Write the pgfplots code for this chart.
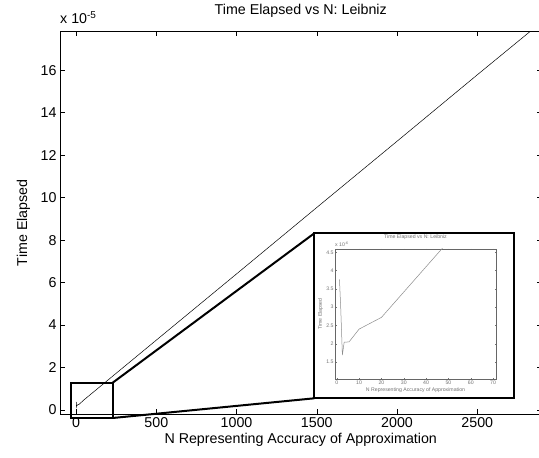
\documentclass[border=0pt]{standalone}
\usepackage{fontspec}
\setmainfont{Liberation Sans}
\usepackage{pgfplots}
\usepackage{pgfplotstable}
\pgfplotsset{compat=1.18}
\pgfplotstableread{
N t
1.2 3.76e-6
1.8 2.92e-6
2.5 1.69e-6
3.3 2.04e-6
5.5 2.05e-6
10 2.40e-6
20 2.72e-6
50 4.80e-6
500 3.29e-5
1000 6.41e-5
1500 9.54e-5
2000 1.266e-4
2500 1.579e-4
2829 1.783e-4
}\datatable

\begin{document}
\begin{tikzpicture}
\useasboundingbox (0bp,0bp) rectangle (539bp,458bp);
\begin{axis}[
  at={(60bp,44bp)}, anchor=south west,
  scale only axis, width=481.5bp, height=382.5bp,
  xmin=-100, xmax=2900, ymin=-0.19e-5, ymax=17.83e-5,
  xtick={0,500,1000,1500,2000,2500},
  ytick={0,2e-5,4e-5,6e-5,8e-5,10e-5,12e-5,14e-5,16e-5},
  scaled x ticks=false,
  scaled y ticks=base 10:5,
  ytick scale label code/.code={x 10\textsuperscript{#1}},
  every y tick scale label/.style={at={(rel axis cs:0,1)}, anchor=base west, yshift=7.5bp, inner sep=0pt},
  /pgf/number format/assume math mode=true,
  /pgf/number format/set thousands separator={},
  tick align=inside, xtick pos=both, ytick pos=both,
  major tick length=4.5bp,
  tick style={black, line width=0.6bp},
  axis line style={black, line width=0.7bp},
  font=\fontsize{14.3}{16}\selectfont,
  ticklabel style={font=\fontsize{14.3}{16}\selectfont},
  title={Time Elapsed vs N: Leibniz},
  title style={at={(axis description cs:0.5,1)}, anchor=base, yshift=10.8bp, inner sep=0pt},
  xlabel={N Representing Accuracy of Approximation},
  xlabel style={at={(axis description cs:0.5,0)}, anchor=base, yshift=-29bp, inner sep=0pt},
  ylabel={Time Elapsed},
  ylabel style={at={(axis description cs:-0.0685,0.5)}, anchor=base, inner sep=0pt},
  clip=true,
]
\addplot[black, line width=0.5bp] table[x=N, y=t] {\datatable};
\end{axis}
% zoom box, connectors and inset frame
\draw[black, line width=2bp] (70.7bp,40bp) rectangle (112.7bp,75.3bp);
\draw[black, line width=2bp] (112.7bp,75.3bp) -- (314.3bp,224.7bp);
\draw[black, line width=2bp] (112.7bp,40bp) -- (314.3bp,59.7bp);
\draw[black, line width=2bp, fill=white] (314.3bp,59.7bp) rectangle (514bp,224.7bp);
\begin{axis}[
  at={(335bp,79bp)}, anchor=south west,
  scale only axis, width=161bp, height=130bp,
  xmin=-0.8, xmax=71.3, ymin=1.035e-6, ymax=4.59e-6,
  xtick={0,10,20,30,40,50,60,70},
  ytick={1.5e-6,2e-6,2.5e-6,3e-6,3.5e-6,4e-6,4.5e-6},
  scaled x ticks=false,
  scaled y ticks=base 10:6,
  ytick scale label code/.code={x 10\textsuperscript{#1}},
  every y tick scale label/.style={at={(rel axis cs:0,1)}, anchor=base west, yshift=2.5bp, inner sep=0pt, text=black!55},
  /pgf/number format/assume math mode=true,
  tick align=inside, xtick pos=both, ytick pos=both,
  major tick length=1.5bp,
  tick style={black!55, line width=0.3bp},
  axis line style={black!60, line width=0.4bp},
  font=\fontsize{5.2}{6}\selectfont,
  ticklabel style={font=\fontsize{5.2}{6}\selectfont, text=black!55, inner sep=1.2bp},
  title={Time Elapsed vs N: Leibniz},
  title style={at={(axis description cs:0.5,1)}, anchor=base, yshift=4.5bp, inner sep=0pt, text=black!55},
  xlabel={N Representing Accuracy of Approximation},
  xlabel style={at={(axis description cs:0.5,0)}, anchor=base, yshift=-12.8bp, inner sep=0pt, text=black!55},
  ylabel={Time Elapsed},
  ylabel style={at={(axis description cs:-0.082,0.5)}, anchor=base, inner sep=0pt, text=black!55},
]
\addplot[black!45, line width=0.5bp] table[x=N, y=t] {\datatable};
\end{axis}
\end{tikzpicture}
\end{document}
